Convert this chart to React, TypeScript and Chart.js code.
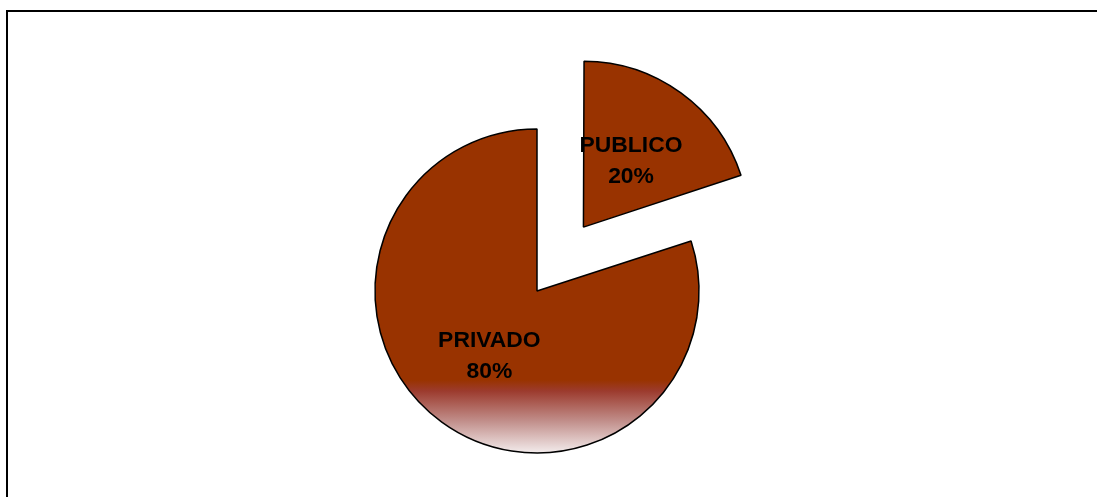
import React, { useEffect, useRef } from "react";
import { Chart, registerables } from "chart.js";

Chart.register(...registerables);

const categories = ["PUBLICO", "PRIVADO"];
const values = [20, 80];
const percentLabels = ["20%", "80%"];
const sliceColor = "#993300";
const explodeOffsets = [316, 0];

const labelPlugin = {
  id: "sliceLabels",
  afterDatasetsDraw(chart: any) {
    const ctx = chart.ctx;
    const meta = chart.getDatasetMeta(0);
    meta.data.forEach((el: any, i: number) => {
      const { x, y, startAngle, endAngle, outerRadius } = el;
      const off = (el.options.offset || 0) / 4;
      const a = (startAngle + endAngle) / 2;
      const r = off + outerRadius / 2;
      const cx = x + Math.cos(a) * r;
      const cy = y + Math.sin(a) * r;
      ctx.save();
      ctx.fillStyle = "#000";
      ctx.font = 'bold 22px "Liberation Sans", Arial, sans-serif';
      ctx.textAlign = "center";
      ctx.textBaseline = "middle";
      ctx.translate(cx, cy);
      ctx.scale(1.04, 1);
      ctx.fillText(categories[i], 0, -15.3);
      ctx.fillText(percentLabels[i], 0, 15.3);
      ctx.restore();
    });
  },
};

export default function App() {
  const ref = useRef<HTMLCanvasElement | null>(null);
  useEffect(() => {
    if (!ref.current) return;
    const chart = new Chart(ref.current, {
      type: "pie",
      data: {
        labels: categories,
        datasets: [
          {
            data: values,
            radius: 162,
            offset: explodeOffsets,
            borderColor: "#000",
            borderWidth: 1.5,
            backgroundColor: (c: any) => {
              const area = c.chart.chartArea;
              if (!area || c.dataIndex !== 1) return sliceColor;
              const cy = (area.top + area.bottom) / 2;
              const R = 162;
              const g = c.chart.ctx.createLinearGradient(0, cy + 0.55 * R, 0, cy + R);
              g.addColorStop(0, "#993300");
              g.addColorStop(0.15, "#9c3b2e");
              g.addColorStop(0.55, "#c08c88");
              g.addColorStop(1, "#f3ecec");
              return g;
            },
          } as any,
        ],
      },
      options: {
        animation: false,
        responsive: false,
        maintainAspectRatio: false,
        layout: { padding: { left: 0, right: 23, top: 85, bottom: 0 } },
        plugins: {
          legend: { display: false },
          tooltip: { enabled: false },
        },
      },
      plugins: [labelPlugin],
    });
    return () => chart.destroy();
  }, []);

  return (
    <div
      style={{
        position: "fixed",
        left: 0,
        top: 0,
        width: 1097,
        height: 497,
        overflow: "hidden",
        background: "#fff",
      }}
    >
      <div
        style={{
          position: "absolute",
          left: 6,
          top: 10,
          width: 1200,
          height: 600,
          borderLeft: "2px solid #000",
          borderTop: "2px solid #000",
        }}
      />
      <canvas
        ref={ref}
        width={1097}
        height={497}
        style={{ position: "absolute", left: 0, top: 0, width: 1097, height: 497 }}
      />
    </div>
  );
}
